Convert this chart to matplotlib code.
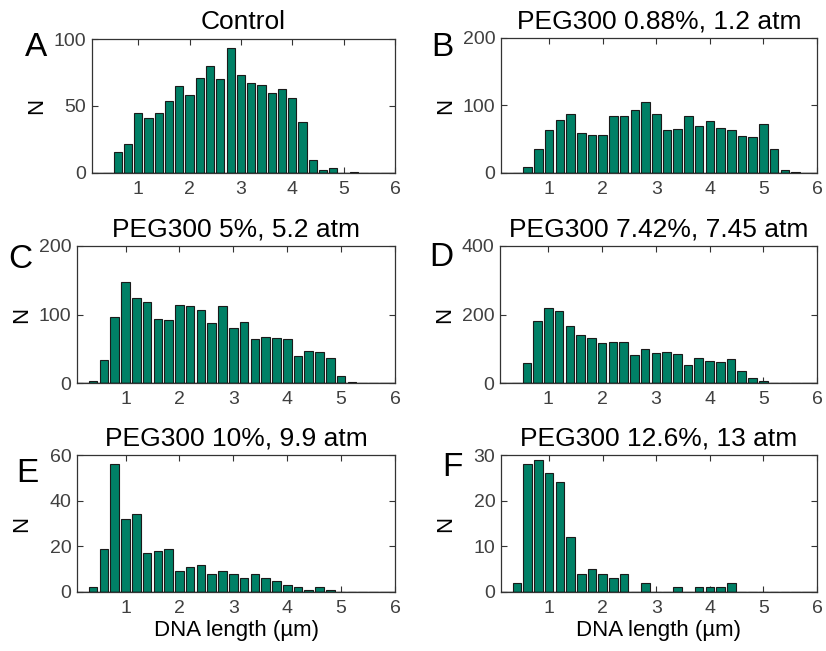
import matplotlib
matplotlib.use("Agg")
import matplotlib.pyplot as plt

plt.rcParams['font.family'] = ['Liberation Sans', 'DejaVu Sans']

# bin centres of the length histograms (um), bin width 0.2
bin_centers = [0.4, 0.6, 0.8, 1.0, 1.2, 1.4, 1.6, 1.8, 2.0, 2.2, 2.4, 2.6, 2.8, 3.0,
               3.2, 3.4, 3.6, 3.8, 4.0, 4.2, 4.4, 4.6, 4.8, 5.0, 5.2, 5.4, 5.6, 5.8]

counts_control = [0, 16, 22, 45, 41, 45, 54, 65, 58, 71, 80, 70, 93, 73,
                  67, 66, 60, 63, 56, 38, 10, 2, 4, 0, 1, 0, 0, 0]
counts_088 = [0, 9, 36, 64, 78, 87, 59, 56, 57, 84, 84, 94, 105, 88,
              64, 65, 85, 69, 77, 66, 63, 55, 53, 73, 35, 4, 1, 0]
counts_5 = [3, 33, 97, 147, 124, 118, 93, 92, 114, 113, 106, 87, 112, 81,
            89, 64, 67, 66, 64, 40, 47, 45, 37, 10, 1, 0, 0, 0]
counts_742 = [1, 58, 182, 220, 209, 167, 140, 131, 116, 121, 121, 82, 100, 87,
              90, 86, 53, 72, 64, 60, 69, 36, 14, 5, 0, 0, 0, 0]
counts_10 = [2, 19, 56, 32, 34, 17, 18, 19, 9, 11, 12, 8, 9, 8,
             6, 8, 6, 5, 3, 2, 1, 2, 1, 0, 0, 0, 0, 0]
counts_126 = [2, 28, 29, 26, 24, 12, 4, 5, 4, 3, 4, 0, 2, 0,
              0, 1, 0, 1, 1, 1, 2, 0, 0, 0, 0, 0, 0, 0]

titles = ["Control", "PEG300 0.88%, 1.2 atm", "PEG300 5%, 5.2 atm",
          "PEG300 7.42%, 7.45 atm", "PEG300 10%, 9.9 atm", "PEG300 12.6%, 13 atm"]
letters = ["A", "B", "C", "D", "E", "F"]
yticks = [[0, 50, 100], [0, 100, 200], [0, 100, 200],
          [0, 200, 400], [0, 20, 40, 60], [0, 10, 20, 30]]
all_counts = [counts_control, counts_088, counts_5, counts_742, counts_10, counts_126]

W, H = 826, 651
# axes boxes in pixels: left, top, right, bottom
boxes = [(92, 39, 395, 173), (501, 38, 817, 173),
         (77, 246, 395, 383), (500, 246, 817, 383),
         (77, 455, 395, 592), (501, 455, 817, 592)]
letter_pos = [(36, 48), (442, 47), (20, 259), (441, 257), (27, 474), (452, 468)]

bar_color = (0.0, 0.5, 0.4)
tick_color = '#404040'

fig = plt.figure(figsize=(W / 100, H / 100), dpi=100)

for i in range(6):
    l, t, r, b = boxes[i]
    ax = fig.add_axes([l / W, 1 - b / H, (r - l) / W, (b - t) / H])
    ax.bar(bin_centers, all_counts[i], width=0.16, color=bar_color,
           edgecolor='#1a1a1a', linewidth=0.8, zorder=2)
    ax.axhline(0, color='k', linewidth=1.0, zorder=3)
    ax.set_xlim(0.1, 6)
    ax.set_ylim(yticks[i][0], yticks[i][-1])
    ax.set_xticks([1, 2, 3, 4, 5, 6])
    ax.set_yticks(yticks[i])
    ax.tick_params(direction='in', top=True, right=True, length=4,
                   width=0.8, colors='#333333', labelcolor=tick_color,
                   labelsize=14)
    ax.tick_params(axis='x', pad=6)
    ax.tick_params(axis='y', pad=4)
    for sp in ax.spines.values():
        sp.set_color('#333333')
        sp.set_linewidth(0.9)
    ax.set_title(titles[i], fontsize=19, pad=7)
    ax.set_ylabel("N", fontsize=16, color='k')
    ax.yaxis.set_label_coords(-45 / (r - l), 0.5)
    if i >= 4:
        ax.set_xlabel("DNA length (µm)", fontsize=16, labelpad=2)
    lx, ly = letter_pos[i]
    fig.text(lx / W, 1 - ly / H, letters[i], fontsize=24, ha='center', va='center')

fig.savefig("out.png", dpi=100)
